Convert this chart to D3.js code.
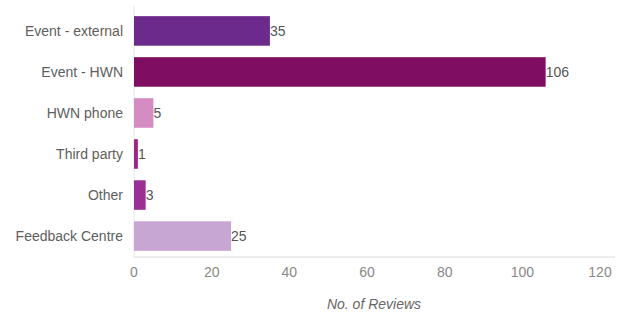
<!DOCTYPE html>
<html>
<head>
<meta charset="utf-8">
<script src="https://cdn.jsdelivr.net/npm/d3@7"></script>
<style>
  body { margin: 0; background: #fff; }
  svg text { font-family: Arial, "Liberation Sans", sans-serif; }
</style>
</head>
<body>
<div id="chart"></div>
<script>
const categories = ["Event - external", "Event - HWN", "HWN phone", "Third party", "Other", "Feedback Centre"];
const reviews = [35, 106, 5, 1, 3, 25];
const barColors = ["#6b2a8c", "#7f0e63", "#d48cc2", "#9e2689", "#9a2f95", "#c8a6d4"];
const xTicks = [0, 20, 40, 60, 80, 100, 120];

const width = 621, height = 320;
const margin = {left: 134, right: 21, top: 10, bottom: 63};

const svg = d3.select("#chart").append("svg")
    .attr("width", width)
    .attr("height", height);

const x = d3.scaleLinear()
    .domain([0, 120])
    .range([margin.left, 600]);

const y = d3.scaleBand()
    .domain(categories)
    .range([margin.top, height - margin.bottom])
    .paddingInner(0.28)
    .paddingOuter(0.15);

// axis lines
svg.append("line")
    .attr("x1", margin.left).attr("x2", margin.left)
    .attr("y1", 6).attr("y2", height - margin.bottom)
    .attr("stroke", "#e6e6e6").attr("stroke-width", 1);
svg.append("line")
    .attr("x1", margin.left).attr("x2", 615)
    .attr("y1", height - margin.bottom).attr("y2", height - margin.bottom)
    .attr("stroke", "#e6e6e6").attr("stroke-width", 1.5);

const data = categories.map((c, i) => ({cat: c, val: reviews[i], color: barColors[i]}));

svg.selectAll("rect.bar")
    .data(data)
    .enter().append("rect")
    .attr("class", "bar")
    .attr("x", x(0))
    .attr("y", d => y(d.cat))
    .attr("width", d => x(d.val) - x(0))
    .attr("height", y.bandwidth())
    .attr("fill", d => d.color);

svg.selectAll("text.val")
    .data(data)
    .enter().append("text")
    .attr("class", "val")
    .attr("x", d => x(d.val))
    .attr("y", d => y(d.cat) + y.bandwidth() / 2)
    .attr("dy", "0.35em")
    .style("font-size", "14px")
    .attr("fill", "#555")
    .text(d => d.val);

svg.selectAll("text.cat")
    .data(data)
    .enter().append("text")
    .attr("class", "cat")
    .attr("x", margin.left - 11)
    .attr("y", d => y(d.cat) + y.bandwidth() / 2)
    .attr("dy", "0.35em")
    .attr("text-anchor", "end")
    .style("font-size", "14px")
    .attr("fill", "#5e5e5e")
    .text(d => d.cat);

svg.selectAll("text.tick")
    .data(xTicks)
    .enter().append("text")
    .attr("class", "tick")
    .attr("x", d => x(d))
    .attr("y", 277)
    .attr("text-anchor", "middle")
    .style("font-size", "14px")
    .attr("fill", "#888")
    .text(d => d);

svg.append("text")
    .attr("x", 374)
    .attr("y", 309)
    .attr("text-anchor", "middle")
    .style("font-size", "14px")
    .style("font-style", "italic")
    .attr("fill", "#666")
    .text("No. of Reviews");
</script>
</body>
</html>
